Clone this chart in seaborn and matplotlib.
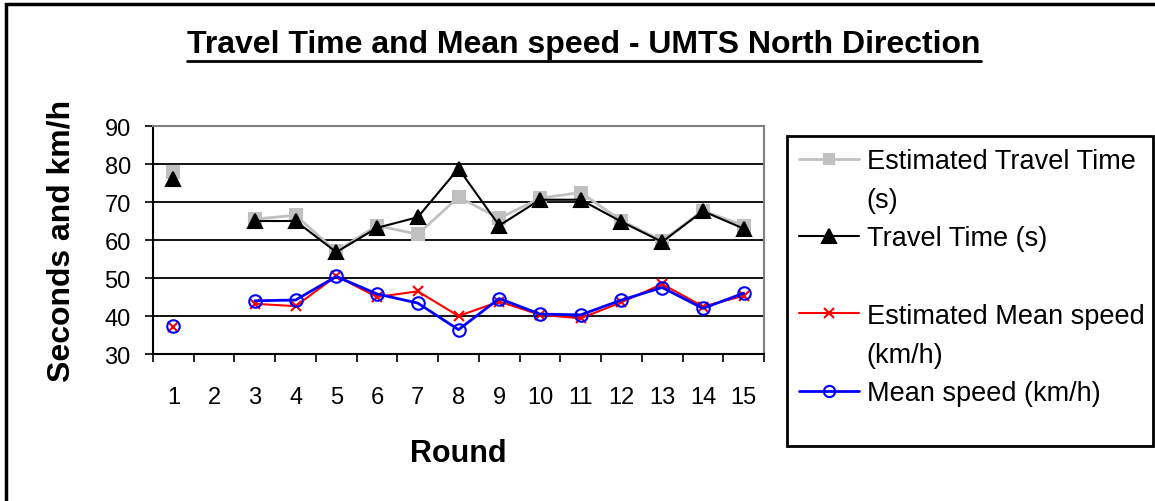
import numpy as np
import pandas as pd
import matplotlib.pyplot as plt
import seaborn as sns
from matplotlib.lines import Line2D
from matplotlib.patches import Rectangle


# ======================
# CONFIG
# ======================

sns.set_theme(style="white")
plt.rcParams['font.family'] = ['Liberation Sans', 'DejaVu Sans']
plt.rcParams['text.color'] = 'black'
plt.rcParams['axes.labelcolor'] = 'black'
plt.rcParams['xtick.color'] = 'black'
plt.rcParams['ytick.color'] = 'black'


# ======================
# DATA
# ======================

rounds = list(range(1, 16))

est_travel_time = [77.8, np.nan, 65.5, 66.5, 57.0, 63.8, 61.5, 71.3,
                   65.7, 71.0, 72.5, 65.1, 59.8, 67.7, 63.8]
travel_time = [76.0, np.nan, 65.0, 65.0, 56.8, 63.2, 66.0, 78.8,
               63.8, 70.6, 70.6, 64.8, 59.5, 67.6, 63.0]
est_mean_speed = [37.2, np.nan, 43.2, 42.6, 50.5, 45.0, 46.5, 40.0,
                  43.8, 40.3, 39.4, 43.6, 48.4, 42.5, 45.3]
mean_speed = [37.5, np.nan, 44.0, 44.2, 50.4, 45.8, 43.4, 36.4,
              44.6, 40.5, 40.3, 44.2, 47.5, 42.0, 46.0]

y_ticks = [30, 40, 50, 60, 70, 80, 90]

df = pd.DataFrame({
    'round': rounds,
    'est_tt': est_travel_time,
    'tt': travel_time,
    'est_ms': est_mean_speed,
    'ms': mean_speed,
})

# round 2 is missing -> break the lines there
df['seg'] = df['tt'].isna().cumsum()


# ======================
# SERIES STYLE
# ======================

series = [
    ('est_tt', 'Estimated Travel Time', '#C0C0C0', 's', 8.5, 2.0, '#C0C0C0'),
    ('tt', 'Travel Time (s)', 'black', '^', 10.5, 1.5, 'black'),
    ('est_ms', 'Estimated Mean speed', '#FF0000', 'x', 7.5, 1.5, '#FF0000'),
    ('ms', 'Mean speed (km/h)', '#0000FF', 'o', 9, 2.0, 'none'),
]


# ======================
# FIGURE
# ======================

fig = plt.figure(figsize=(11.55, 5.02), dpi=100)
ax = fig.add_axes([153 / 1155, 1 - 355 / 502, 611 / 1155, 228 / 502])

for col, label, color, marker, ms, lw, mfc in series:
    sns.lineplot(
        data=df,
        x='round',
        y=col,
        units='seg',
        estimator=None,
        color=color,
        marker=marker,
        markersize=ms,
        markerfacecolor=mfc,
        markeredgecolor=color,
        markeredgewidth=1.5,
        linewidth=lw,
        legend=False,
        ax=ax
    )

ax.set_xlim(0.5, 15.5)
ax.set_ylim(30, 90)

ax.set_yticks(y_ticks)
ax.set_yticklabels([str(v) for v in y_ticks])
ax.tick_params(axis='y', direction='out', length=6, width=1.2,
               color='black', labelsize=17, pad=10, left=True)

ax.set_xticks(np.arange(0.5, 16, 1))
ax.set_xticklabels([])
ax.set_xticks(rounds, minor=True)
ax.set_xticklabels([str(r) for r in rounds], minor=True)
ax.tick_params(axis='x', which='major', direction='out', length=6,
               width=1.2, color='black', bottom=True)
ax.tick_params(axis='x', which='minor', length=0, labelsize=17, pad=23)

for v in y_ticks[1:-1]:
    ax.axhline(v, color='black', linewidth=1.3, zorder=0)

for side in ['left', 'bottom']:
    ax.spines[side].set_color('black')
    ax.spines[side].set_linewidth(1.5)
for side in ['top', 'right']:
    ax.spines[side].set_color('#808080')
    ax.spines[side].set_linewidth(1.5)

ax.set_xlabel('Round', fontsize=22, fontweight='bold')
ax.set_ylabel('Seconds and km/h', fontsize=23, fontweight='bold')
ax.xaxis.set_label_coords(0.5, -0.37)
ax.yaxis.set_label_coords(-0.126, 0.5)


# ======================
# LEGEND
# ======================

blank = Line2D([], [], color='none')
handles = []
for col, label, color, marker, ms, lw, mfc in series:
    handles.append(Line2D([], [], color=color, marker=marker,
                          markersize=ms * 0.9, markerfacecolor=mfc,
                          markeredgecolor=color, markeredgewidth=1.5,
                          linewidth=lw))

leg_handles = [handles[0], blank, handles[1], blank,
               handles[2], blank, handles[3]]
leg_labels = ['Estimated Travel Time', '(s)', 'Travel Time (s)', '',
              'Estimated Mean speed', '(km/h)', 'Mean speed (km/h)']

fig.legend(
    leg_handles,
    leg_labels,
    loc='upper left',
    bbox_to_anchor=(799 / 1155, 1 - 149 / 502),
    frameon=False,
    fontsize=19.5,
    handlelength=2.2,
    handletextpad=0.3,
    borderpad=0,
    borderaxespad=0,
    labelspacing=0.47,
    numpoints=1
)

fig.patches.append(Rectangle(
    (787 / 1155, 1 - 447 / 502), 366 / 1155, 310 / 502,
    transform=fig.transFigure, fill=False, edgecolor='black', linewidth=2
))


# ======================
# TITLE + BORDER
# ======================

title = fig.text(0.5056, 1 - 45 / 502,
                 'Travel Time and Mean speed - UMTS North Direction',
                 ha='center', va='center', fontsize=23, fontweight='bold')

fig.canvas.draw()
bb = title.get_window_extent().transformed(fig.transFigure.inverted())
fig.add_artist(Line2D([bb.x0, bb.x1], [bb.y0 - 0.004, bb.y0 - 0.004],
                      transform=fig.transFigure, color='black', linewidth=2))

fig.patches.append(Rectangle(
    (6 / 1155, -0.05), 1.2, 1 - 5 / 502 + 0.05,
    transform=fig.transFigure, fill=False, edgecolor='black', linewidth=2.5
))

fig.savefig('out.png', dpi=100)
